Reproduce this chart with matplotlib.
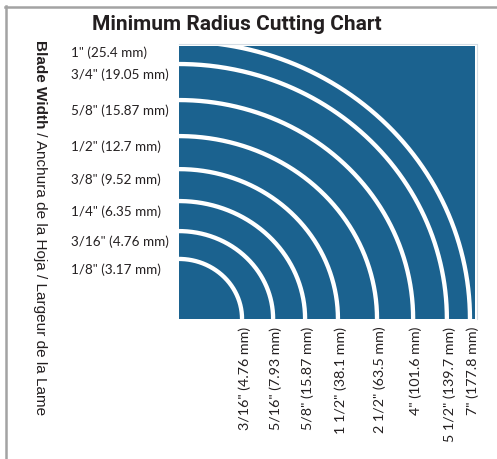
import numpy as np
import matplotlib
matplotlib.use("Agg")
import matplotlib.pyplot as plt
from matplotlib import font_manager
from matplotlib.lines import Line2D

# ---- data ----
blade_widths = ['1/8" (3.17 mm)', '3/16" (4.76 mm)', '1/4" (6.35 mm)', '3/8" (9.52 mm)',
                '1/2" (12.7 mm)', '5/8" (15.87 mm)', '3/4" (19.05 mm)', '1" (25.4 mm)']
radius_labels = ['3/16" (4.76 mm)', '5/16" (7.93 mm)', '5/8" (15.87 mm)', '1 1/2" (38.1 mm)',
                 '2 1/2" (63.5 mm)', '4" (101.6 mm)', '5 1/2" (139.7 mm)', '7" (177.8 mm)']
# arc intercepts along the bottom edge (x) and the left edge (y), as fractions of the panel
arc_x = [0.213, 0.318, 0.426, 0.537, 0.669, 0.791, 0.905, 0.983]
arc_y = [0.220, 0.322, 0.432, 0.549, 0.670, 0.802, 0.934, 1.017]

title = "Minimum Radius Cutting Chart"
axis_bold = "Blade Width"
axis_rest = " / Anchura de la Hoja / Largeur de la Lame"

BLUE = "#1b628f"

names = {f.name for f in font_manager.fontManager.ttflist}
title_font = "Liberation Sans Narrow" if "Liberation Sans Narrow" in names else "Roboto"
label_font = "Lato"
side_font = "Liberation Sans"

W, H = 497, 460
fig = plt.figure(figsize=(W / 100, H / 100), dpi=100)
fig.patch.set_facecolor("white")

# panel: left 179px, right 475px, top 47px, bottom 320px
ax = fig.add_axes([179 / W, 1 - 320 / H, 296 / W, 273 / H])
ax.set_facecolor(BLUE)
ax.set_xlim(0, 1)
ax.set_ylim(0, 1)
for s in ax.spines.values():
    s.set_visible(False)
ax.set_xticks([])
ax.set_yticks([])

theta = np.linspace(0, np.pi / 2, 400)
for rx, ry in zip(arc_x, arc_y):
    ax.plot(rx * np.cos(theta), ry * np.sin(theta), color="white", lw=3.1,
            solid_capstyle="butt")

# light outline at top and right of the panel
ax.plot([0, 1.004], [1.006, 1.006], color="#d6dee6", lw=0.8, clip_on=False)
ax.plot([1.006, 1.006], [0, 1.006], color="#d6dee6", lw=0.8, clip_on=False)

# left blade-width labels, just below each arc's left intercept
for lab, ry in zip(blade_widths, arc_y):
    ax.text(-0.365, ry - 0.037, lab, transform=ax.transAxes, ha="left", va="center",
            fontsize=9.7, family=label_font, color="#231f20")

# bottom radius labels, under each arc's bottom intercept
for lab, rx in zip(radius_labels, arc_x):
    ax.text(rx + 0.01, -0.025, lab, transform=ax.transAxes, rotation=90,
            ha="center", va="top", fontsize=10.3, family=label_font, color="#231f20")

# title
fig.text(237 / W, 1 - 24 / H, title, ha="center", va="center", fontsize=15,
         fontweight="bold", family=title_font, color="#231f20")

# vertical side label
t1 = fig.text(40 / W, 1 - 40 / H, axis_bold, rotation=-90, ha="center", va="top",
              fontsize=11, fontweight="bold", family=side_font, color="#231f20")
fig.canvas.draw()
r = fig.canvas.get_renderer()
bb = t1.get_window_extent(renderer=r)
fig.text(40 / W, bb.y0 / H, axis_rest, rotation=-90, ha="center", va="top",
         fontsize=11, family=side_font, color="#231f20")

# grey frame lines (top and left)
fig.add_artist(Line2D([5 / W, 1], [1 - 8 / H, 1 - 8 / H], transform=fig.transFigure,
                      color="#a3a3a3", lw=1.8))
fig.add_artist(Line2D([6 / W, 6 / W], [0, 1 - 7 / H], transform=fig.transFigure,
                      color="#a3a3a3", lw=1.8))

fig.savefig("out.png", dpi=100)
